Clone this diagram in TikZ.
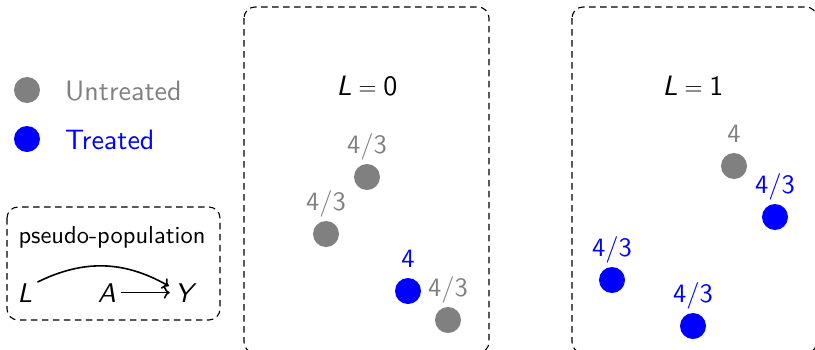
\documentclass[tikz,border=0pt]{standalone}
\usepackage{fontspec}
\setsansfont{lmsans10-regular.otf}[ItalicFont=lmsans10-oblique.otf,SlantedFont=lmsans10-oblique.otf,BoldFont=lmsans10-bold.otf]
\renewcommand\familydefault{\sfdefault}
\usetikzlibrary{arrows.meta}
\begin{document}
\begin{tikzpicture}[x=1pt,y=-1pt,
  panel/.style={draw=black,dashed,dash pattern=on 6.5pt off 4.5pt,line width=1.1pt,rounded corners=11pt},
  dotg/.style={circle,fill=gray,minimum size=26pt,inner sep=0pt},
  dotb/.style={circle,fill=blue,minimum size=26pt,inner sep=0pt},
  big/.style={font=\fontsize{28}{32}\selectfont,inner sep=0pt},
  lab/.style={font=\fontsize{26.5}{30}\selectfont,inner sep=0pt,anchor=base},
  var/.style={font=\fontsize{27}{30}\selectfont\slshape,inner sep=2pt},
  arr/.style={-{To[length=6pt,width=12pt]},line width=1.6pt}
]
\useasboundingbox (0,0) rectangle (815,349);
% legend
\node[dotg] (lg) at (27,90) {};
\node[big,text=gray,anchor=base west] (lgt) at (65,100) {Untreated};
\node[dotb] (lb) at (27,139) {};
\node[big,text=blue,anchor=base west] (lbt) at (65,149) {Treated};
% pseudo-population box
\draw[panel] (7,207) rectangle (220,320);
\node[font=\fontsize{24.5}{28}\selectfont,inner sep=0pt,anchor=base] (pp) at (112,243) {pseudo-population};
\node[var,anchor=base] (L) at (25,302) {L};
\node[var,anchor=base] (A) at (107,302) {A};
\node[var,anchor=base] (Y) at (184,302) {Y};
\draw[arr] ([xshift=3pt]A.east) -- ([xshift=-3pt]Y.west);
\draw[arr] ([xshift=3pt,yshift=-1pt]L.north east) to[bend left=28] ([xshift=-4pt,yshift=-5pt]Y.north west);
% L = 0 panel
\draw[panel] (244,7) rectangle (489,353);
\node[big,anchor=base] (t0) at (367,95) {$\mbox{\slshape L} = \mbox{0}$};
\node[dotg] (a1) at (367,177) {};
\node[lab,text=gray] (a1l) at ([yshift=24pt]a1.center) {4/3};
\node[dotg] (a2) at (326,234) {};
\node[lab,text=gray] (a2l) at ([yshift=24pt]a2.center) {4/3};
\node[dotb] (a3) at (408,291) {};
\node[lab,text=blue] (a3l) at ([yshift=24pt]a3.center) {4};
\node[dotg] (a4) at (448,320) {};
\node[lab,text=gray] (a4l) at ([yshift=24pt]a4.center) {4/3};
% L = 1 panel
\draw[panel] (572,7) rectangle (817,353);
\node[big,anchor=base] (t1) at (693,95) {$\mbox{\slshape L} = \mbox{1}$};
\node[dotg] (b1) at (734,166) {};
\node[lab,text=gray] (b1l) at ([yshift=24pt]b1.center) {4};
\node[dotb] (b2) at (775,217) {};
\node[lab,text=blue] (b2l) at ([yshift=24pt]b2.center) {4/3};
\node[dotb] (b3) at (612,280) {};
\node[lab,text=blue] (b3l) at ([yshift=24pt]b3.center) {4/3};
\node[dotb] (b4) at (693,326) {};
\node[lab,text=blue] (b4l) at ([yshift=24pt]b4.center) {4/3};
\end{tikzpicture}
\end{document}
